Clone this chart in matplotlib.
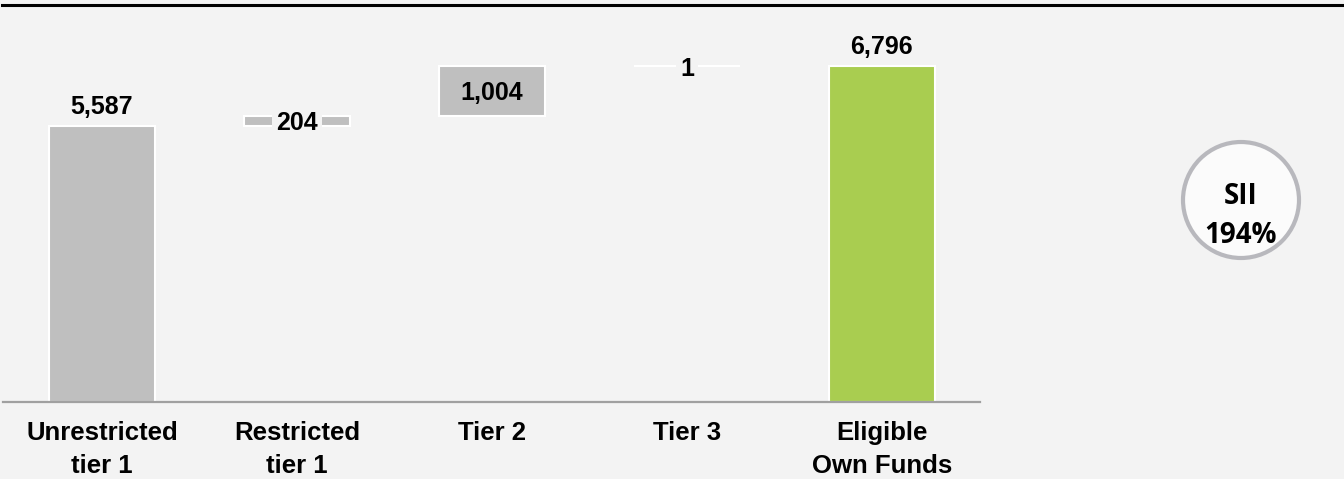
import matplotlib
matplotlib.use("Agg")
import matplotlib.pyplot as plt
from matplotlib.lines import Line2D
from matplotlib.patches import Circle

categories = ["Unrestricted\ntier 1", "Restricted\ntier 1", "Tier 2", "Tier 3", "Eligible\nOwn Funds"]
values = [5587, 204, 1004, 1, 6796]
labels = ["5,587", "204", "1,004", "1", "6,796"]
ratio_label = "SII\n194%"

bg = "#f3f3f3"
grey = "#bfbfbf"
green = "#a9cd50"

# waterfall bottoms: running total, last bar is the total from zero
bottoms = []
run = 0
for v in values[:-1]:
    bottoms.append(run)
    run += v
bottoms.append(0)
colors = [grey] * 4 + [green]

W, H = 1344, 479
fig = plt.figure(figsize=(W / 100, H / 100), dpi=100, facecolor=bg)

ax = fig.add_axes([3 / W, (H - 402) / H, 977 / W, 382 / H])
ax.set_facecolor(bg)
x = list(range(len(values)))
ax.bar(x, values, bottom=bottoms, width=0.54, color=colors,
       edgecolor="white", linewidth=1.5, zorder=2)
ax.set_xlim(-0.508, 4.503)
ax.set_ylim(0, 7726)

for s in ["top", "right", "left"]:
    ax.spines[s].set_visible(False)
ax.spines["bottom"].set_color("#a0a0a0")
ax.spines["bottom"].set_linewidth(1.6)
ax.spines["bottom"].set_zorder(3)
ax.set_yticks([])
ax.set_xticks(x)
ax.set_xticklabels(categories, fontsize=18.5, fontweight="bold",
                   family="Liberation Sans", linespacing=1.45)
ax.tick_params(axis="x", length=0, pad=14)

for i, (v, b, lab) in enumerate(zip(values, bottoms, labels)):
    if i in (0, 4):
        ax.annotate(lab, (i, b + v), xytext=(0, 8.6), textcoords="offset points",
                    ha="center", va="baseline", fontsize=18, fontweight="bold",
                    family="Liberation Sans", zorder=4)
    elif i == 2:
        ax.text(i, b + v / 2, lab, ha="center", va="center_baseline", fontsize=18,
                fontweight="bold", family="Liberation Sans", zorder=4)
    else:
        ax.text(i, b + v / 2, lab, ha="center", va="center_baseline", fontsize=18,
                fontweight="bold", family="Liberation Sans", zorder=4,
                bbox=dict(facecolor=bg, edgecolor="none", pad=3))

# top rule
fig.add_artist(Line2D([2 / W, 1.0], [(H - 5) / H, (H - 5) / H],
                      color="black", linewidth=2.2, transform=fig.transFigure))

# ratio badge
cax = fig.add_axes([0, 0, 1, 1], facecolor="none")
cax.set_xlim(0, W)
cax.set_ylim(H, 0)
cax.axis("off")
cax.add_patch(Circle((1241, 200), 58, facecolor="#fbfbfb", edgecolor="#b8b8bd", linewidth=3))
l1, l2 = ratio_label.split("\n")
cax.text(1241, 204, l1, ha="center", va="baseline", fontsize=20,
         fontweight="bold", family="Open Sans")
cax.text(1241, 243, l2, ha="center", va="baseline", fontsize=20,
         fontweight="bold", family="Open Sans")

fig.savefig("out.png", dpi=100, facecolor=bg)
